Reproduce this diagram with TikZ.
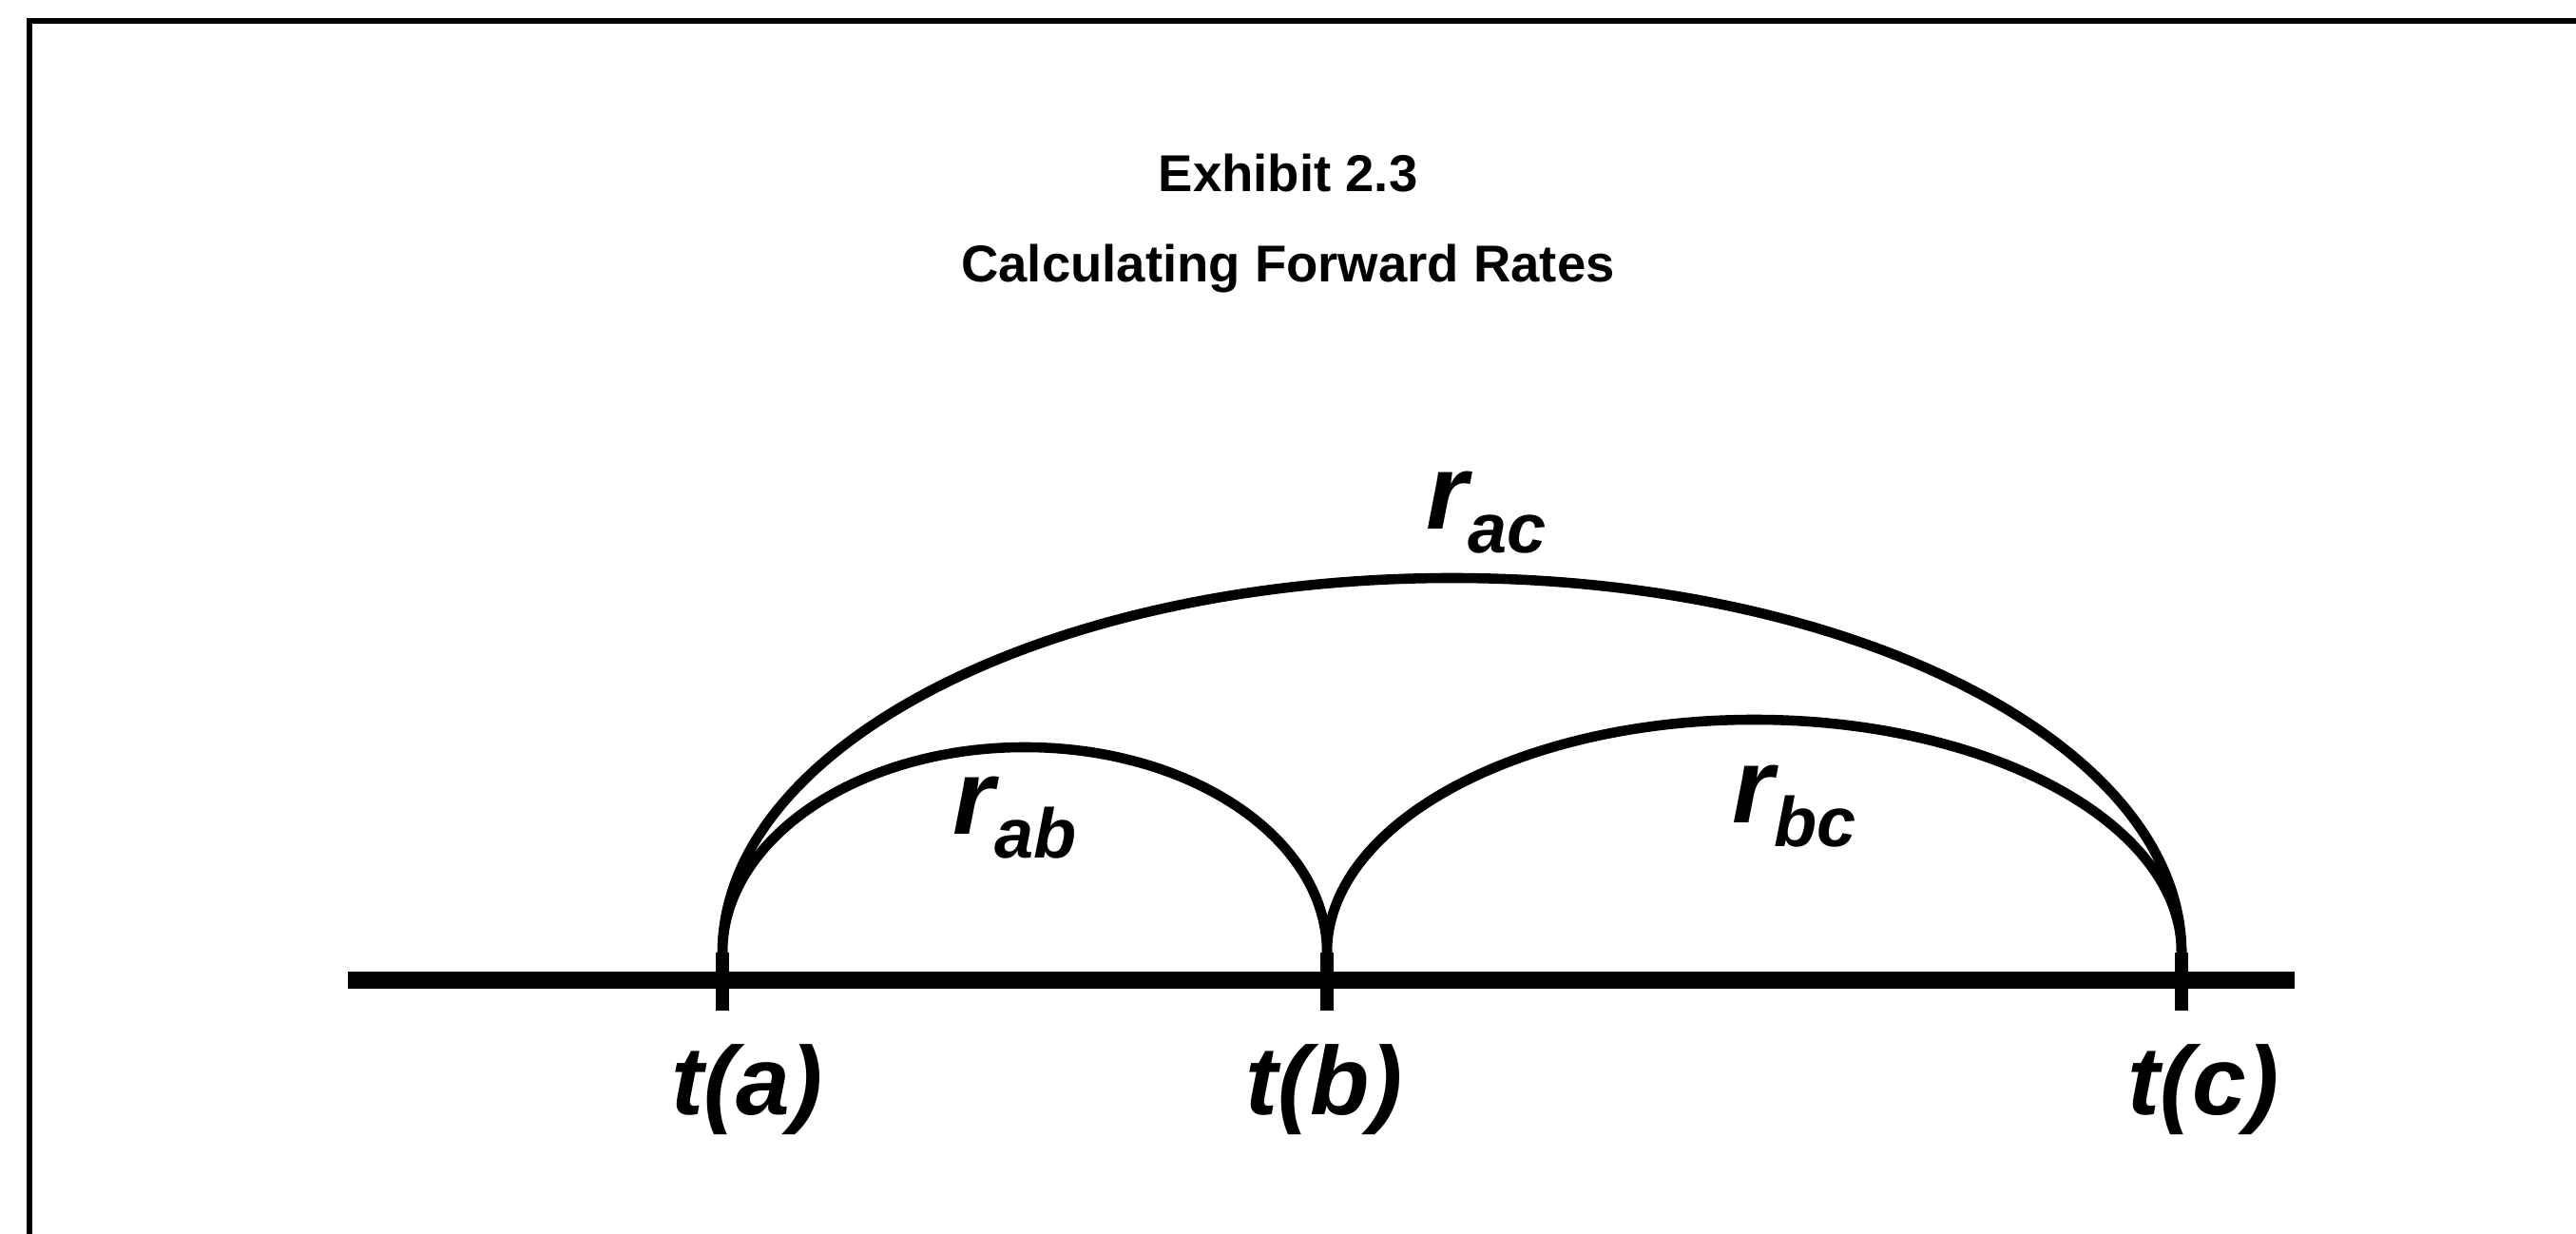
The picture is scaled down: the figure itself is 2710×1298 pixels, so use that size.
\documentclass[tikz,border=0pt]{standalone}
\usepackage{fontspec}
\setmainfont{Liberation Sans}
\usepackage{tikz}
\usetikzlibrary{positioning}

\newcommand{\ratesym}[1]{{\fontsize{32}{32}\selectfont r}\raisebox{-7pt}{\fontsize{21}{21}\selectfont #1}}

\begin{document}
\begin{tikzpicture}[
  x=0.01cm, y=0.01cm,
  frameline/.style={draw=black, line width=1.6pt},
  axisline/.style={draw=black, line width=5pt},
  tickmark/.style={draw=black, line width=4pt},
  ratearc/.style={draw=black, line width=3pt},
  titletext/.style={font=\fontsize{15.5}{19}\selectfont\bfseries, inner sep=0pt, anchor=base},
  timelabel/.style={font=\fontsize{29}{34}\selectfont\bfseries\itshape, inner sep=0pt, anchor=base},
  ratelabel/.style={font=\bfseries\itshape, inner sep=0pt, anchor=base west}
]
\useasboundingbox (0,0) rectangle (2710,1298);
\draw[frameline] (31,0) -- (31,1276) -- (2710,1276);

\node[titletext] (exhibit) at (1355,1096) {Exhibit 2.3};
\node[titletext] (caption) at (1355,1001) {Calculating Forward Rates};

% time axis
\coordinate (axl) at (366,267);
\coordinate (axr) at (2414,267);
\draw[axisline] (axl) -- (axr);

\coordinate (ta) at (760,296);
\coordinate (tb) at (1396,296);
\coordinate (tc) at (2295,296);
\coordinate (ta-low) at (760,235);
\coordinate (tb-low) at (1396,235);
\coordinate (tc-low) at (2295,235);
\draw[tickmark] (ta) -- (ta-low);
\draw[tickmark] (tb) -- (tb-low);
\draw[tickmark] (tc) -- (tc-low);

\node[timelabel] (lab-a) at (786,125) {t(a)};
\node[timelabel] (lab-b) at (1393,125) {t(b)};
\node[timelabel] (lab-c) at (2318,125) {t(c)};

% rate arcs
\draw[ratearc] (ta) arc[start angle=180, end angle=0, x radius=767.5, y radius=394];
\draw[ratearc] (ta) arc[start angle=180, end angle=0, x radius=318, y radius=216];
\draw[ratearc] (tb) arc[start angle=180, end angle=0, x radius=449.5, y radius=245];

\node[ratelabel] (rac) at (1500,741) {\ratesym{ac}};
\node[ratelabel] (rab) at (1002,420) {\ratesym{ab}};
\node[ratelabel] (rbc) at (1822,432) {\ratesym{bc}};
\end{tikzpicture}
\end{document}
